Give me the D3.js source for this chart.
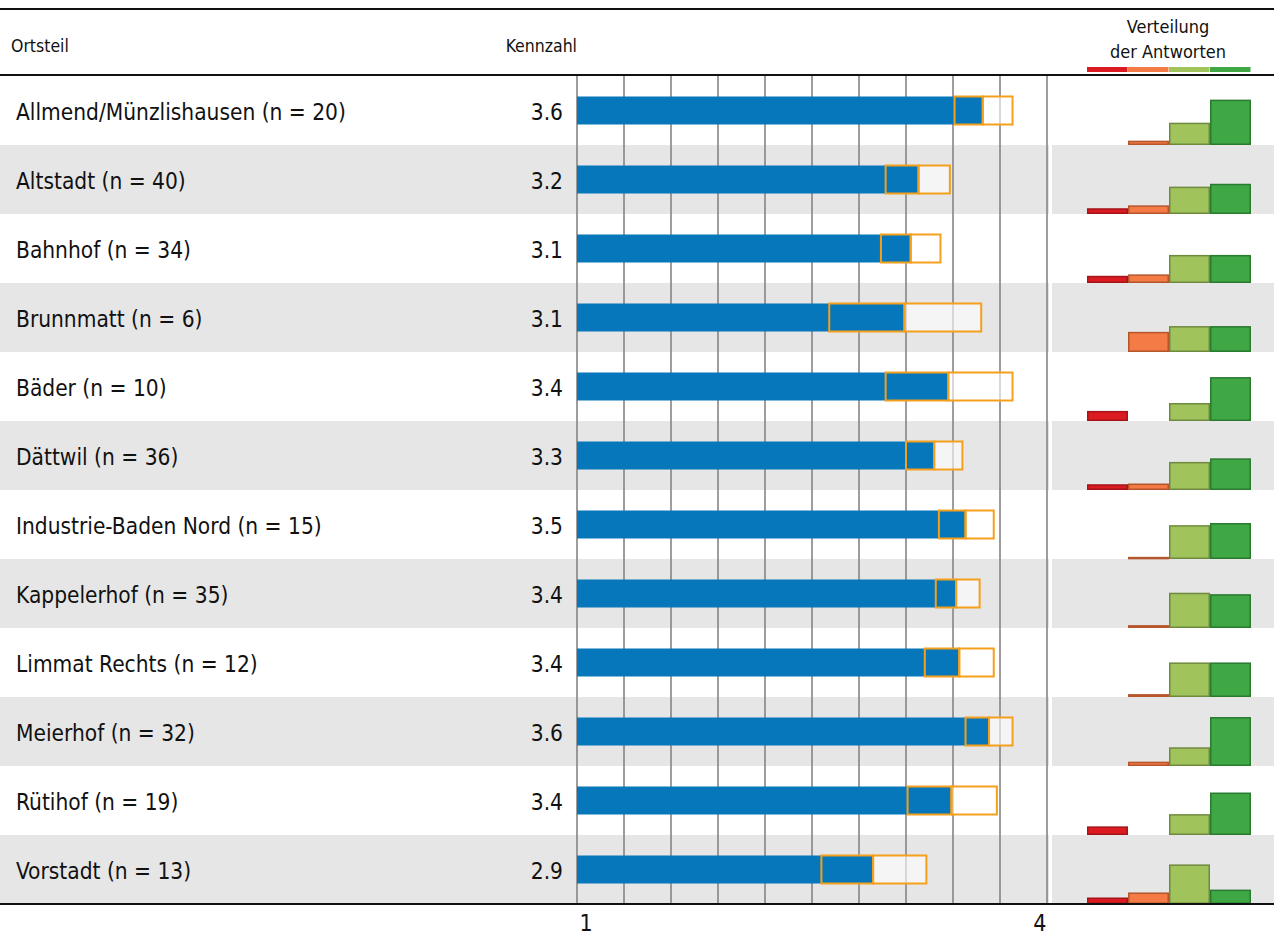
<!DOCTYPE html>
<html>
<head>
<meta charset="utf-8">
<script src="https://cdn.jsdelivr.net/npm/d3@7"></script>
<style>
  body { margin: 0; background: #fff; }
  svg text { font-family: "Liberation Sans Narrow", "DejaVu Sans Condensed", "Arial Narrow", sans-serif; fill: #111; }
</style>
</head>
<body>
<div id="chart"></div>
<script>
const ortsteile = [
    "Allmend/Münzlishausen (n = 20)", "Altstadt (n = 40)", "Bahnhof (n = 34)", "Brunnmatt (n = 6)",
    "Bäder (n = 10)", "Dättwil (n = 36)", "Industrie-Baden Nord (n = 15)", "Kappelerhof (n = 35)",
    "Limmat Rechts (n = 12)", "Meierhof (n = 32)", "Rütihof (n = 19)", "Vorstadt (n = 13)"
]
const kennzahl = [3.59, 3.18, 3.13, 3.09, 3.37, 3.28, 3.48, 3.42, 3.44, 3.63, 3.39, 2.89]
const ciLow = [3.41, 2.97, 2.94, 2.61, 2.97, 3.10, 3.31, 3.29, 3.22, 3.48, 3.11, 2.56]
const ciHigh = [3.78, 3.38, 3.32, 3.58, 3.78, 3.46, 3.66, 3.57, 3.66, 3.78, 3.68, 3.23]

// Verteilung der Antworten in Prozent (rot, orange, hellgrün, grün)
const antwortRot = [0, 8, 10, 0, 14, 8, 0, 0, 0, 0, 12, 9]
const antwortOrange = [6, 12, 12, 28, 0, 9, 3, 4, 4, 6, 0, 16]
const antwortHellgruen = [31, 38, 39, 36, 25, 39, 47, 49, 48, 26, 29, 55]
const antwortGruen = [63, 42, 39, 36, 61, 44, 50, 47, 48, 68, 59, 20]
const antwortKategorien = ["rot", "orange", "hellgruen", "gruen"]

const axisTicks = [1, 4]

const width = 1274, height = 936
const colors = {
    rot: { fill: "#dc1a22", stroke: "#a51418" },
    orange: { fill: "#f47b45", stroke: "#b5552c" },
    hellgruen: { fill: "#a0c45b", stroke: "#6f8a3f" },
    gruen: { fill: "#3fa845", stroke: "#2a7a30" }
}

const xScale = d3.scaleLinear().domain([1, 4]).range([577, 1047])
const yScale = d3.scaleBand().domain(ortsteile).range([76, 904])
const distX = d3.scaleBand().domain(antwortKategorien).range([1087, 1251])
const distH = d3.scaleLinear().domain([0, 100]).range([0, 72])

const svg = d3.select("#chart").append("svg")
    .attr("width", width).attr("height", height)

const rows = ortsteile.map((name, i) => ({
    name: name, value: kennzahl[i], lo: ciLow[i], hi: ciHigh[i],
    dist: { rot: antwortRot[i], orange: antwortOrange[i], hellgruen: antwortHellgruen[i], gruen: antwortGruen[i] }
}))

// Zeilenhintergrund (abwechselnd grau)
svg.selectAll(".band-left")
    .data(rows.filter((d, i) => i % 2 == 1))
    .enter().append("rect")
    .attr("x", 0).attr("width", 1049)
    .attr("y", d => yScale(d.name)).attr("height", yScale.bandwidth())
    .attr("fill", "#e6e6e6")
svg.selectAll(".band-right")
    .data(rows.filter((d, i) => i % 2 == 1))
    .enter().append("rect")
    .attr("x", 1052).attr("width", width - 1052)
    .attr("y", d => yScale(d.name)).attr("height", yScale.bandwidth())
    .attr("fill", "#e6e6e6")

// Gitterlinien alle 0.3
const gridValues = d3.range(11).map(i => 1 + i * 0.3)
svg.selectAll(".grid")
    .data(gridValues)
    .enter().append("line")
    .attr("x1", d => xScale(d)).attr("x2", d => xScale(d))
    .attr("y1", yScale.range()[0]).attr("y2", yScale.range()[1])
    .attr("stroke", "#858585").attr("stroke-width", 1.6)

const barH = 28
const barY = d => yScale(d.name) + yScale.bandwidth() / 2 - barH / 2

// Kennzahl-Balken
svg.selectAll(".bar")
    .data(rows)
    .enter().append("rect")
    .attr("x", xScale(1)).attr("y", barY)
    .attr("width", d => xScale(d.value) - xScale(1)).attr("height", barH)
    .attr("fill", "#0677ba")

// Vertrauensintervall
svg.selectAll(".ci-upper")
    .data(rows)
    .enter().append("rect")
    .attr("x", d => xScale(d.value)).attr("y", barY)
    .attr("width", d => xScale(d.hi) - xScale(d.value)).attr("height", barH)
    .attr("fill", "#fff").attr("fill-opacity", 0.6)
    .attr("stroke", "#f5a01c").attr("stroke-width", 2)
svg.selectAll(".ci-lower")
    .data(rows)
    .enter().append("rect")
    .attr("x", d => xScale(d.lo)).attr("y", barY)
    .attr("width", d => xScale(d.value) - xScale(d.lo)).attr("height", barH)
    .attr("fill", "none")
    .attr("stroke", "#f5a01c").attr("stroke-width", 2)

// Beschriftungen
svg.selectAll(".label")
    .data(rows)
    .enter().append("text")
    .attr("x", 16).attr("y", d => yScale(d.name) + yScale.bandwidth() / 2 + 9)
    .attr("font-size", 22.5)
    .text(d => d.name)

svg.selectAll(".value")
    .data(rows)
    .enter().append("text")
    .attr("x", 563).attr("y", d => yScale(d.name) + yScale.bandwidth() / 2 + 9)
    .attr("text-anchor", "end")
    .attr("font-size", 22.5)
    .text(d => d3.format(".1f")(d.value))

// Verteilung der Antworten
rows.forEach(d => {
    const base = yScale(d.name) + yScale.bandwidth()
    antwortKategorien.forEach(k => {
        if (d.dist[k] <= 0) return
        const h = distH(d.dist[k])
        svg.append("rect")
            .attr("x", distX(k) + 0.75).attr("width", distX.bandwidth() - 1.5)
            .attr("y", base - h + 0.75).attr("height", Math.max(h - 1.5, 1))
            .attr("fill", colors[k].fill)
            .attr("stroke", colors[k].stroke).attr("stroke-width", 1.5)
    })
})

// Kopfzeile
svg.append("line").attr("x1", 0).attr("x2", width).attr("y1", 9).attr("y2", 9)
    .attr("stroke", "#111").attr("stroke-width", 2)
svg.append("line").attr("x1", 0).attr("x2", width).attr("y1", 75).attr("y2", 75)
    .attr("stroke", "#111").attr("stroke-width", 2)
svg.append("line").attr("x1", 0).attr("x2", width).attr("y1", 904).attr("y2", 904)
    .attr("stroke", "#111").attr("stroke-width", 2)

svg.append("text").attr("x", 11).attr("y", 52).attr("font-size", 17.5).text("Ortsteil")
svg.append("text").attr("x", 577).attr("y", 52).attr("font-size", 17.5)
    .attr("text-anchor", "end").text("Kennzahl")
svg.append("text").attr("x", 1168).attr("y", 33).attr("font-size", 18)
    .attr("text-anchor", "middle").text("Verteilung")
svg.append("text").attr("x", 1168).attr("y", 58).attr("font-size", 18)
    .attr("text-anchor", "middle").text("der Antworten")

svg.selectAll(".legend")
    .data(antwortKategorien)
    .enter().append("rect")
    .attr("x", d => distX(d)).attr("width", distX.bandwidth() - 0.5)
    .attr("y", 67).attr("height", 5)
    .attr("fill", d => colors[d].fill)

// x-Achse
const xaxis = d3.axisBottom(xScale).tickValues(axisTicks).tickSize(0).tickFormat(d3.format("d"))
svg.append("g")
    .attr("transform", "translate(0,904)")
    .call(xaxis)
    .call(g => g.select(".domain").remove())
    .selectAll("text")
    .attr("font-size", 23)
    .attr("dy", 0).attr("y", 27)
    .style("text-anchor", d => d == 1 ? "start" : "end")
    .attr("dx", d => d == 1 ? 2 : -1)
</script>
</body>
</html>
